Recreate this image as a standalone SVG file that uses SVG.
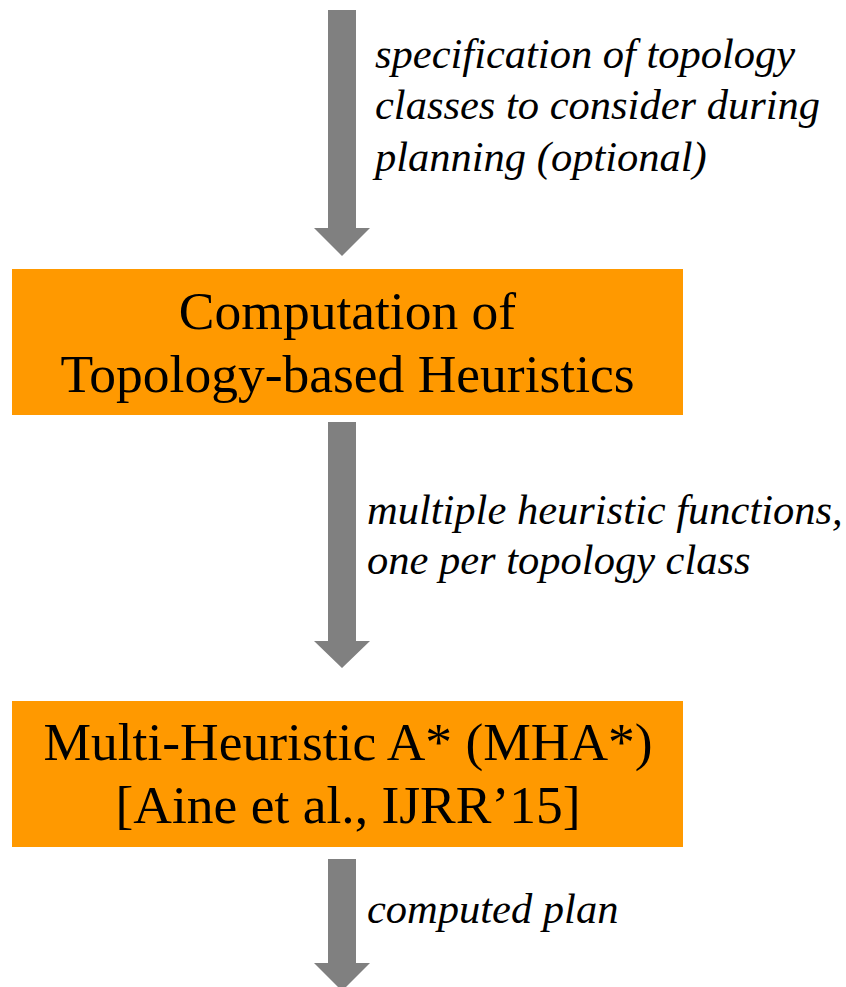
<svg xmlns="http://www.w3.org/2000/svg" width="846" height="987" viewBox="0 0 846 987">
<style>
.box{fill:#FF9900}
.arrow{fill:#808080}
.title{font-family:"Liberation Serif","Times New Roman",serif;font-size:53.5px;fill:#000;text-anchor:middle}
.lbl{font-family:"Liberation Serif","Times New Roman",serif;font-size:42.5px;font-style:italic;fill:#000}
</style>
<rect width="846" height="987" fill="#fff"/>
<g id="connectors">
<polygon class="arrow" points="328,10 356,10 356,228 370,228 342,256 314,228 328,228"/>
<polygon class="arrow" points="328,422 356,422 356,641 370,641 342,668 314,641 328,641"/>
<polygon class="arrow" points="328,859 356,859 356,963 370,963 342,991 314,963 328,963"/>
<text class="lbl" x="375" y="68">specification of topology</text>
<text class="lbl" x="375" y="119">classes to consider during</text>
<text class="lbl" x="375" y="171">planning (optional)</text>
<text class="lbl" x="367" y="524">multiple heuristic functions,</text>
<text class="lbl" x="367" y="574">one per topology class</text>
<text class="lbl" x="367" y="923">computed plan</text>
</g>
<g id="node-heuristics">
<rect class="box" x="12" y="269" width="671" height="146"/>
<text class="title" x="347.5" y="329">Computation of</text>
<text class="title" x="347.5" y="392">Topology-based Heuristics</text>
</g>
<g id="node-mha">
<rect class="box" x="12" y="701" width="671" height="146"/>
<text class="title" x="348" y="760">Multi-Heuristic A* (MHA*)</text>
<text class="title" x="348" y="823">[Aine et al., IJRR’15]</text>
</g>
</svg>
